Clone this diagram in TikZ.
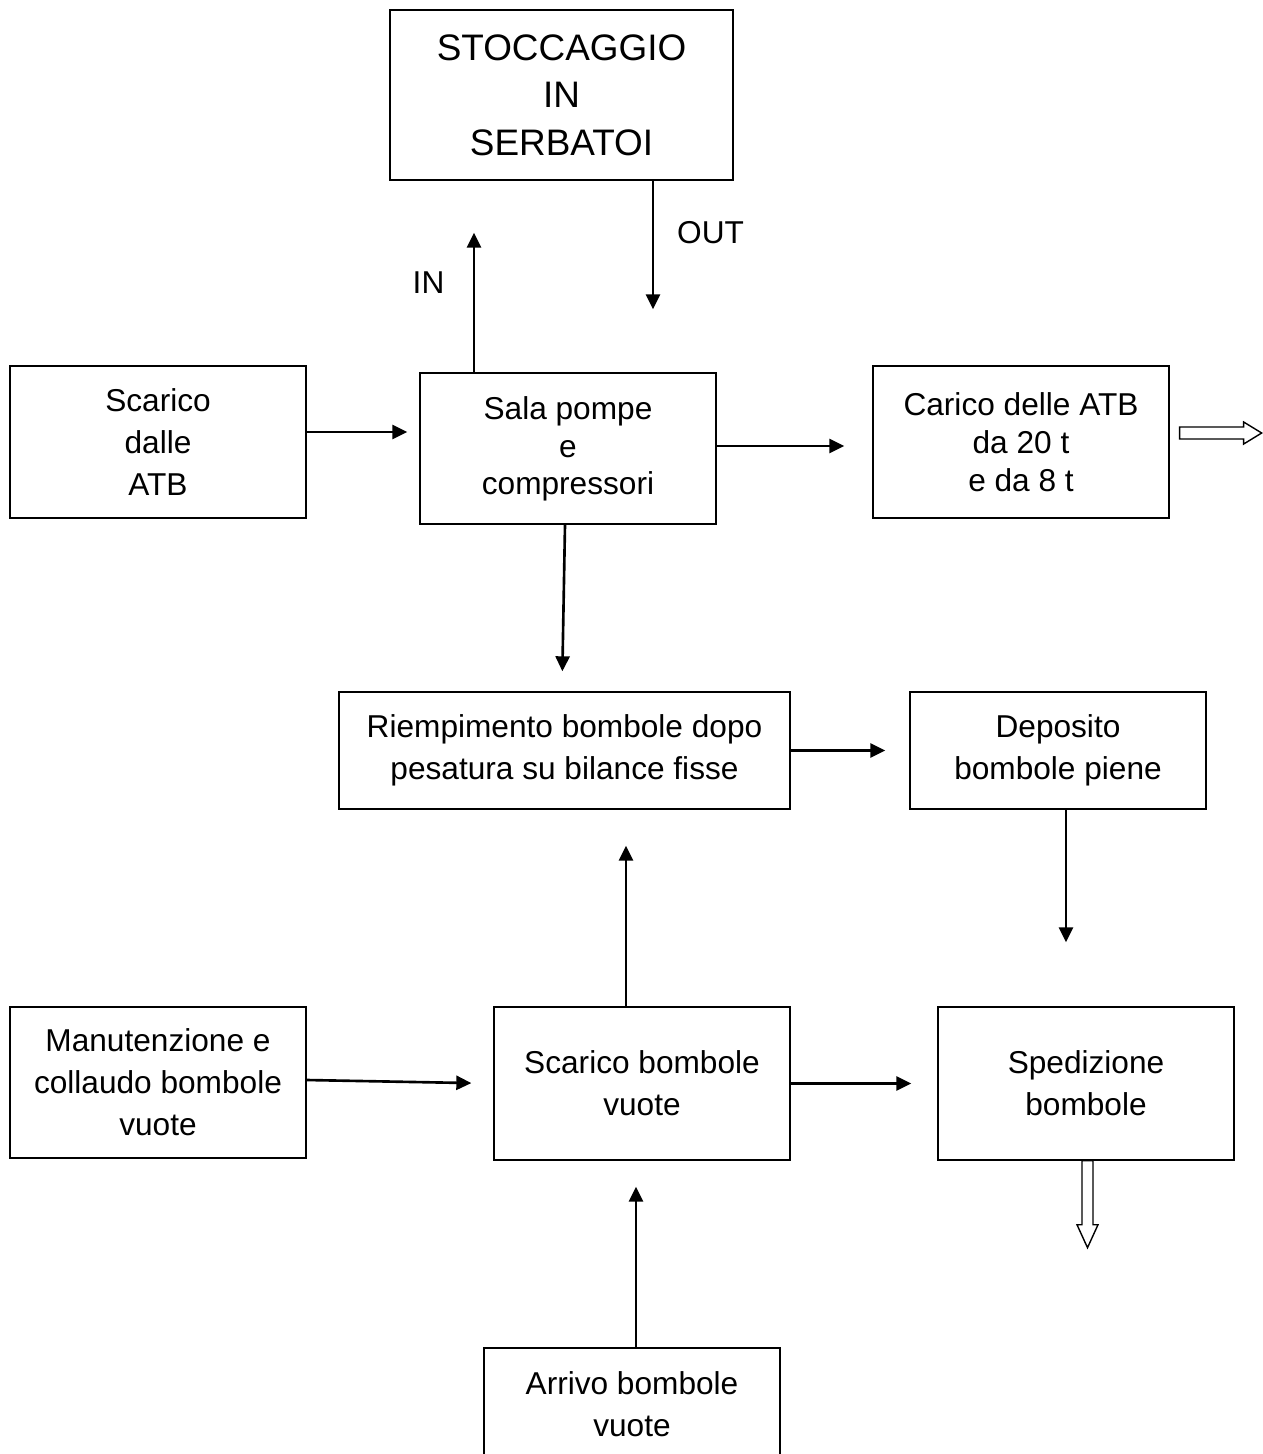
\documentclass[tikz,border=0pt]{standalone}
\usepackage{fontspec}
\setmainfont{Liberation Sans}
\usetikzlibrary{positioning, arrows.meta}

\begin{document}
\begin{tikzpicture}[
    x=0.02cm, y=-0.02cm,
    block/.style={rectangle, draw, line width=0.8pt, minimum width=5.92cm, inner sep=0pt, align=center, font=\fontsize{18}{24}\selectfont},
    flow/.style={-{Triangle[length=0.3cm, width=0.28cm]}, line width=1.5pt},
    hollow/.style={draw, line width=0.8pt, fill=white},
    lbl/.style={font=\fontsize{18}{24}\selectfont}
]
    \useasboundingbox (0,0) rectangle (1263,1454);

    \node[block, minimum width=6.86cm, minimum height=3.4cm, font=\fontsize{21}{27}\selectfont] (stock) at (561.5,95) {STOCCAGGIO\\IN\\SERBATOI};
    \node[block, minimum height=3.04cm] (scaricoatb) at (158,442) {Scarico\\dalle\\ATB};
    \node[block, minimum height=3.02cm, font=\fontsize{18}{21.5}\selectfont] (sala) at (568,448.5) {\\[-8pt]Sala pompe\\e\\compressori};
    \node[block, minimum height=3.04cm, font=\fontsize{18}{21.5}\selectfont] (carico) at (1021,442) {Carico delle ATB\\da 20 t\\e da 8 t};
    \node[block, minimum width=9.02cm, minimum height=2.34cm] (riemp) at (564.5,750.5) {Riempimento bombole dopo\\pesatura su bilance fisse};
    \node[block, minimum height=2.34cm] (deposito) at (1058,750.5) {Deposito\\bombole piene};
    \node[block, minimum height=3.02cm] (manut) at (158,1082.5) {Manutenzione e\\collaudo bombole\\vuote};
    \node[block, minimum height=3.06cm] (scaricov) at (642,1083.5) {Scarico bombole\\vuote};
    \node[block, minimum height=3.06cm] (sped) at (1086,1083.5) {Spedizione\\bombole};
    \node[block, minimum height=2.24cm] (arrivo) at (632,1404) {Arrivo bombole\\vuote};

    % storage in / out
    \draw[flow, shorten >=1.04cm] ([xshift=-1.88cm]sala.north) -- ([xshift=-1.88cm]sala.north |- stock.south)
        node[lbl, pos=0.47, left=0.45cm] (lblin) {IN};
    \draw[flow, shorten >=1.26cm] ([xshift=1.83cm]stock.south) -- ([xshift=1.83cm]stock.south |- sala.north)
        node[lbl, pos=0.27, right=0.34cm] (lblout) {OUT};

    \draw[flow, shorten >=0.24cm] ([yshift=0.2cm]scaricoatb.east) -- ([yshift=0.2cm]scaricoatb.east -| sala.west);
    \draw[flow, shorten >=0.56cm] ([yshift=0.05cm]sala.east) -- ([yshift=0.05cm]sala.east -| carico.west);
    \draw[flow, shorten >=0.4cm] ([xshift=-0.06cm]sala.south) -- ([xshift=-0.05cm]riemp.north);
    \draw[flow, shorten >=0.48cm] (riemp.east) -- (deposito.west);
    \draw[flow, shorten >=1.28cm] ([xshift=0.16cm]deposito.south) -- ([xshift=0.16cm]deposito.south |- sped.north);
    \draw[flow, shorten >=0.72cm] ([xshift=-0.32cm]scaricov.north) -- ([xshift=-0.32cm]scaricov.north |- riemp.south);
    \draw[flow, shorten >=0.44cm] ([yshift=0.05cm]manut.east) -- (scaricov.west);
    \draw[flow, shorten >=0.52cm] (scaricov.east) -- (sped.west);
    \draw[flow, shorten >=0.52cm] ([xshift=0.08cm]arrivo.north) -- ([xshift=0.08cm]arrivo.north |- scaricov.south);

    % outgoing hollow arrows
    \coordinate (exita) at ([xshift=0.2cm, yshift=0.18cm]carico.east);
    \coordinate (exitb) at ([xshift=0.03cm]sped.south);
    \draw[hollow] (exita) ++(0,-6) -- ++(64,0) -- ++(0,-5) -- ++(18,11) -- ++(-18,11) -- ++(0,-5) -- ++(-64,0) -- cycle;
    \draw[hollow] (exitb) ++(-5.5,0) -- ++(0,64) -- ++(-5,0) -- ++(10.5,23) -- ++(10.5,-23) -- ++(-5,0) -- ++(0,-64) -- cycle;

\end{tikzpicture}
\end{document}
